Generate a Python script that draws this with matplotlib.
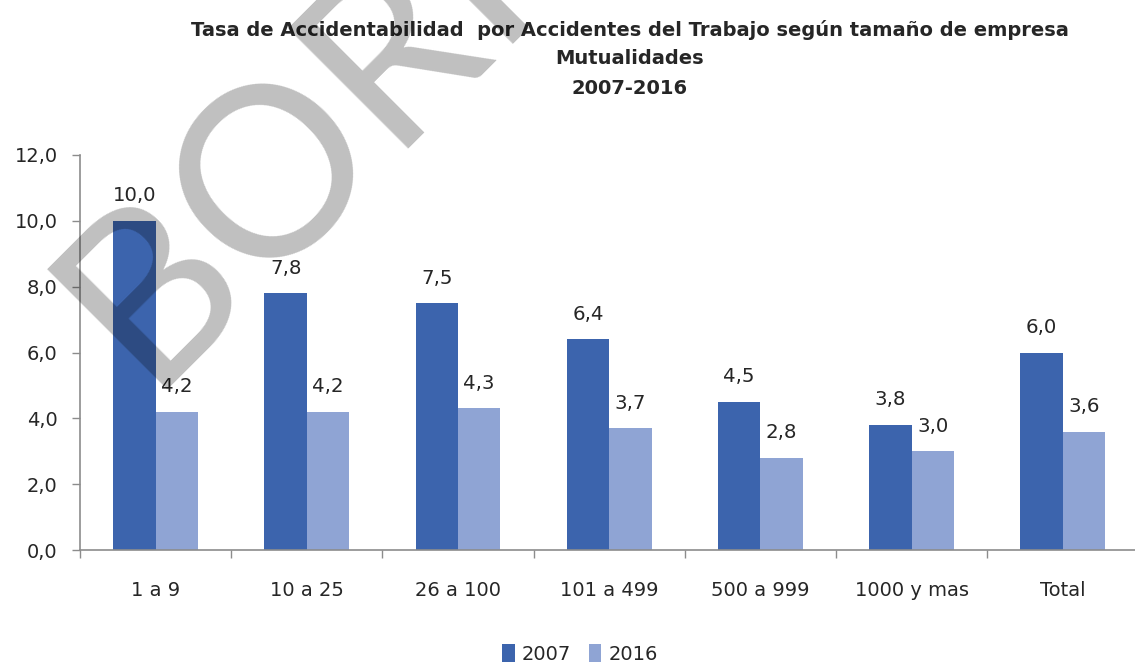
import matplotlib
matplotlib.use("Agg")
import matplotlib.pyplot as plt
import numpy as np

categories = ["1 a 9", "10 a 25", "26 a 100", "101 a 499", "500 a 999", "1000 y mas", "Total"]
series_names = ["2007", "2016"]
values_2007 = [10.0, 7.8, 7.5, 6.4, 4.5, 3.8, 6.0]
values_2016 = [4.2, 4.2, 4.3, 3.7, 2.8, 3.0, 3.6]
yticks = [0, 2, 4, 6, 8, 10, 12]
title_lines = ["Tasa de Accidentabilidad  por Accidentes del Trabajo según tamaño de empresa",
               "Mutualidades", "2007-2016"]
watermark = "BORRADOR"

plt.rcParams['font.family'] = ['DejaVu Sans']

W, H = 1135, 665
fig = plt.figure(figsize=(W / 100, H / 100), dpi=100)

# axes in pixel geometry
left_px, bottom_px, top_px = 80, 550, 155
cat_w = 151.2
ax = fig.add_axes([left_px / W, 1 - bottom_px / H, 7 * cat_w / W, (bottom_px - top_px) / H])

c2007 = "#3C64AD"
c2016 = "#8FA4D4"
txt = "#262626"
axcol = "#8C8C8C"

x = np.arange(len(categories))
bw = 0.28
b1 = ax.bar(x - bw / 2, values_2007, bw, color=c2007, label=series_names[0], zorder=2)
b2 = ax.bar(x + bw / 2, values_2016, bw, color=c2016, label=series_names[1], zorder=2)

fmt = lambda v: f"{v:.1f}".replace(".", ",")
for bars, vals in ((b1, values_2007), (b2, values_2016)):
    for r, v in zip(bars, vals):
        ax.annotate(fmt(v), (r.get_x() + r.get_width() / 2, v), xytext=(0, 18),
                    textcoords="offset points", ha="center", va="center",
                    fontsize=14.2, color=txt)

ax.set_xlim(-0.5, len(categories) - 0.5)
ax.set_ylim(0, 12)
ax.set_yticks(yticks)
ax.set_yticklabels([fmt(v) for v in yticks], fontsize=14, color=txt)
ax.set_xticks(x)
ax.set_xticklabels(categories, fontsize=14, color=txt)
ax.set_xticks(np.arange(-0.5, len(categories)), minor=True)
ax.tick_params(axis="x", which="major", length=0, pad=22)
ax.tick_params(axis="x", which="minor", length=6, width=1, color=axcol, direction="out")
ax.tick_params(axis="y", length=6, width=1, color=axcol, pad=10)
for s in ("top", "right"):
    ax.spines[s].set_visible(False)
for s in ("left", "bottom"):
    ax.spines[s].set_color(axcol)
    ax.spines[s].set_linewidth(1.2)

# title
for line, yy in zip(title_lines, (30, 58, 88)):
    fig.text(630 / W, 1 - yy / H, line, ha="center", va="center",
             fontsize=14, fontweight="bold", color=txt)

# legend
fig.legend(handles=[b1, b2], labels=series_names, loc="center",
           bbox_to_anchor=(580 / W, 1 - 654 / H), ncol=2, frameon=False,
           fontsize=14, handlelength=0.65, handleheight=1.0, handletextpad=0.35,
           columnspacing=0.9, labelcolor=txt, borderpad=0.1)

# watermark overlay
fig.text(146 / W, 1 - 390 / H, watermark, rotation=45, rotation_mode="anchor",
         ha="left", va="baseline", fontsize=170, color="black", alpha=0.25,
         zorder=10, family="Lato")

fig.savefig("out.png", dpi=100)
